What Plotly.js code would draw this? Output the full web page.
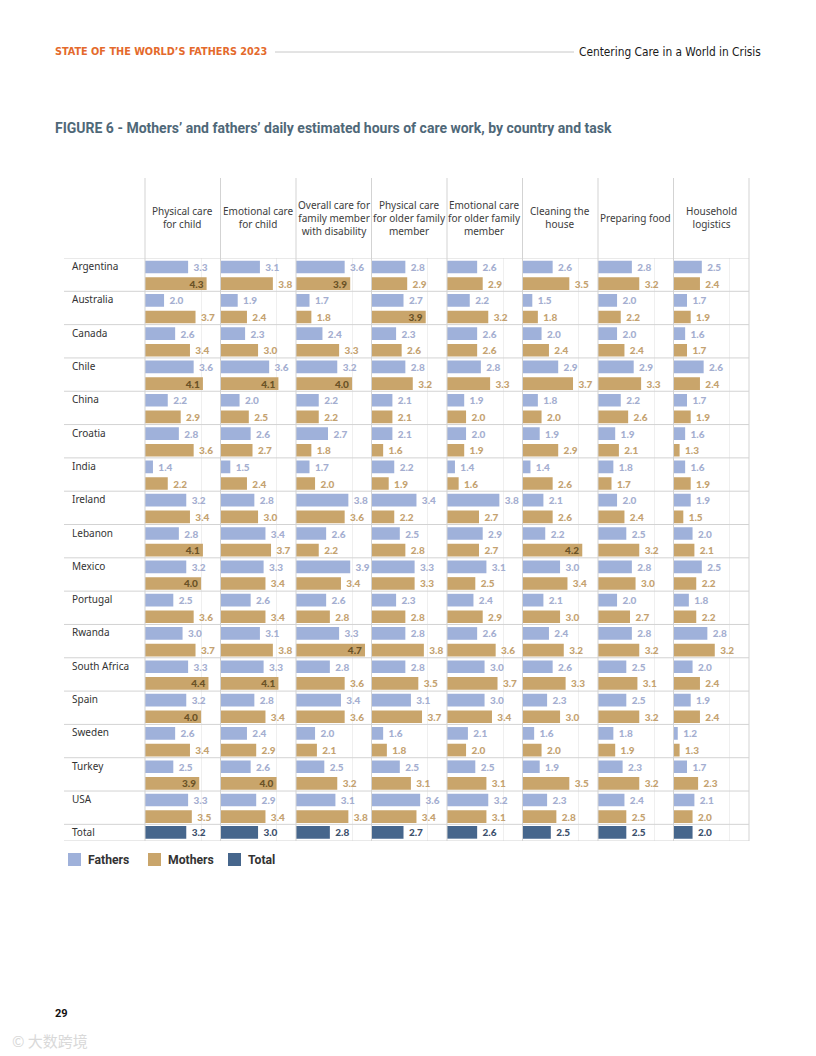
<!DOCTYPE html>
<html>
<head>
<meta charset="utf-8">
<script src="https://cdn.plot.ly/plotly-3.0.1.min.js"></script>
<style>
  html, body { margin: 0; padding: 0; background: #ffffff; }
  #chart { width: 816px; height: 1056px; }
</style>
</head>
<body>
<div id="chart"></div>
<script>
// ---------- DATA ----------
const tasks = [
  "Physical care<br>for child",
  "Emotional care<br>for child",
  "Overall care for<br>family member<br>with disability",
  "Physical care<br>for older family<br>member",
  "Emotional care<br>for older family<br>member",
  "Cleaning the<br>house",
  "Preparing food",
  "Household<br>logistics"
];

const countries = ["Argentina", "Australia", "Canada", "Chile", "China", "Croatia", "India", "Ireland",
  "Lebanon", "Mexico", "Portugal", "Rwanda", "South Africa", "Spain", "Sweden", "Turkey", "USA"];

// one row per country, one value per task (hours per day)
const fathers = [
  [3.3, 3.1, 3.6, 2.8, 2.6, 2.6, 2.8, 2.5],
  [2.0, 1.9, 1.7, 2.7, 2.2, 1.5, 2.0, 1.7],
  [2.6, 2.3, 2.4, 2.3, 2.6, 2.0, 2.0, 1.6],
  [3.6, 3.6, 3.2, 2.8, 2.8, 2.9, 2.9, 2.6],
  [2.2, 2.0, 2.2, 2.1, 1.9, 1.8, 2.2, 1.7],
  [2.8, 2.6, 2.7, 2.1, 2.0, 1.9, 1.9, 1.6],
  [1.4, 1.5, 1.7, 2.2, 1.4, 1.4, 1.8, 1.6],
  [3.2, 2.8, 3.8, 3.4, 3.8, 2.1, 2.0, 1.9],
  [2.8, 3.4, 2.6, 2.5, 2.9, 2.2, 2.5, 2.0],
  [3.2, 3.3, 3.9, 3.3, 3.1, 3.0, 2.8, 2.5],
  [2.5, 2.6, 2.6, 2.3, 2.4, 2.1, 2.0, 1.8],
  [3.0, 3.1, 3.3, 2.8, 2.6, 2.4, 2.8, 2.8],
  [3.3, 3.3, 2.8, 2.8, 3.0, 2.6, 2.5, 2.0],
  [3.2, 2.8, 3.4, 3.1, 3.0, 2.3, 2.5, 1.9],
  [2.6, 2.4, 2.0, 1.6, 2.1, 1.6, 1.8, 1.2],
  [2.5, 2.6, 2.5, 2.5, 2.5, 1.9, 2.3, 1.7],
  [3.3, 2.9, 3.1, 3.6, 3.2, 2.3, 2.4, 2.1]
];

const mothers = [
  [4.3, 3.8, 3.9, 2.9, 2.9, 3.5, 3.2, 2.4],
  [3.7, 2.4, 1.8, 3.9, 3.2, 1.8, 2.2, 1.9],
  [3.4, 3.0, 3.3, 2.6, 2.6, 2.4, 2.4, 1.7],
  [4.1, 4.1, 4.0, 3.2, 3.3, 3.7, 3.3, 2.4],
  [2.9, 2.5, 2.2, 2.1, 2.0, 2.0, 2.6, 1.9],
  [3.6, 2.7, 1.8, 1.6, 1.9, 2.9, 2.1, 1.3],
  [2.2, 2.4, 2.0, 1.9, 1.6, 2.6, 1.7, 1.9],
  [3.4, 3.0, 3.6, 2.2, 2.7, 2.6, 2.4, 1.5],
  [4.1, 3.7, 2.2, 2.8, 2.7, 4.2, 3.2, 2.1],
  [4.0, 3.4, 3.4, 3.3, 2.5, 3.4, 3.0, 2.2],
  [3.6, 3.4, 2.8, 2.8, 2.9, 3.0, 2.7, 2.2],
  [3.7, 3.8, 4.7, 3.8, 3.6, 3.2, 3.2, 3.2],
  [4.4, 4.1, 3.6, 3.5, 3.7, 3.3, 3.1, 2.4],
  [4.0, 3.4, 3.6, 3.7, 3.4, 3.0, 3.2, 2.4],
  [3.4, 2.9, 2.1, 1.8, 2.0, 2.0, 1.9, 1.3],
  [3.9, 4.0, 3.2, 3.1, 3.1, 3.5, 3.2, 2.3],
  [3.5, 3.4, 3.8, 3.4, 3.1, 2.8, 2.5, 2.0]
];

const totals = [3.2, 3.0, 2.8, 2.7, 2.6, 2.5, 2.5, 2.0];

const legendLabels = ["Fathers", "Mothers", "Total"];

// ---------- STYLE / GEOMETRY ----------
const W = 816, H = 1056;
const px = x => x / W;
const py = y => 1 - y / H;
const colL = 145, colW = 75.5;
const gridTop = 178, rowTop = 258, gridBottom = 841, labelX = 66;
const R0 = 0.97, R1 = 5.05;
const C_F = "#9fb1da", C_M = "#c9a56b", C_T = "#46668c";
const T_F = "#a4aed0", T_M = "#c4a270", T_IN = "#6a5226", T_T = "#3c506c";
const numFont = "Lato, 'Open Sans', sans-serif";
const txtFont = "'Noto Sans', 'Open Sans', sans-serif";
const nRows = countries.length + 0.5;
const lineC = "#d3d3d3";
const numSize = 10;

const traces = [];
const layout = {
  width: W, height: H,
  margin: { l: 0, r: 0, t: 0, b: 0 },
  paper_bgcolor: "#ffffff", plot_bgcolor: "rgba(0,0,0,0)",
  showlegend: false,
  barmode: "overlay",
  yaxis: {
    domain: [py(gridBottom), py(rowTop)],
    range: [nRows, 0],
    showgrid: false, zeroline: false, showticklabels: false, showline: false,
    fixedrange: true
  },
  shapes: [],
  annotations: []
};

tasks.forEach((task, k) => {
  const ax = k === 0 ? "x" : "x" + (k + 1);
  const axKey = k === 0 ? "xaxis" : "xaxis" + (k + 1);
  layout[axKey] = {
    domain: [px(colL + k * colW), px(colL + (k + 1) * colW)],
    range: [R0, R1],
    anchor: "y",
    tickvals: [4], showticklabels: false,
    showgrid: true, gridcolor: "#efefef", gridwidth: 1,
    zeroline: false, showline: false, fixedrange: true
  };

  const fv = countries.map((c, i) => fathers[i][k]);
  const mv = countries.map((c, i) => mothers[i][k]);

  traces.push({
    type: "bar", orientation: "h", xaxis: ax, yaxis: "y",
    base: R0,
    x: fv.map(v => v - R0),
    y: countries.map((c, i) => i + 0.27),
    width: 0.38,
    marker: { color: C_F },
    text: fv.map(v => "\u00a0" + v.toFixed(1)),
    texttemplate: "%{text}",
    textposition: "outside",
    outsidetextfont: { family: numFont, size: numSize, color: T_F, weight: 900 },
    constraintext: "none", cliponaxis: false, hoverinfo: "skip"
  });

  traces.push({
    type: "bar", orientation: "h", xaxis: ax, yaxis: "y",
    base: R0,
    x: mv.map(v => v - R0),
    y: countries.map((c, i) => i + 0.77),
    width: 0.38,
    marker: { color: C_M },
    text: mv.map(v => (v >= 3.9 ? "" : "\u00a0") + v.toFixed(1)),
    texttemplate: "%{text}",
    textposition: mv.map(v => v >= 3.9 ? "inside" : "outside"),
    insidetextanchor: "end",
    insidetextfont: { family: numFont, size: numSize, color: T_IN, weight: 900 },
    outsidetextfont: { family: numFont, size: numSize, color: T_M, weight: 900 },
    constraintext: "none", cliponaxis: false, hoverinfo: "skip"
  });

  traces.push({
    type: "bar", orientation: "h", xaxis: ax, yaxis: "y",
    base: R0,
    x: [totals[k] - R0],
    y: [countries.length + 0.24],
    width: 0.38,
    marker: { color: C_T },
    text: ["\u00a0" + totals[k].toFixed(1)],
    texttemplate: "%{text}",
    textposition: "outside",
    outsidetextfont: { family: numFont, size: numSize, color: T_T, weight: 900 },
    constraintext: "none", cliponaxis: false, hoverinfo: "skip"
  });

  // column header
  layout.annotations.push({
    xref: "paper", yref: "paper",
    x: px(colL + (k + 0.5) * colW), y: py(218),
    xanchor: "center", yanchor: "middle",
    text: task, showarrow: false, align: "center",
    font: { family: txtFont, size: 10, color: "#3d3d3d" }
  });
});

// vertical column separators
for (let k = 0; k <= tasks.length; k++) {
  layout.shapes.push({
    type: "line", xref: "paper", yref: "paper",
    x0: px(colL + k * colW), x1: px(colL + k * colW),
    y0: py(gridBottom), y1: py(gridTop),
    line: { color: lineC, width: 1 }
  });
}
// horizontal row separators (header line, between rows, bottom)
const rowLines = [0].concat(countries.map((c, i) => i + 1), [nRows]);
rowLines.forEach(v => {
  layout.shapes.push({
    type: "line", xref: "paper", yref: "y",
    x0: px(labelX - 2), x1: px(colL + tasks.length * colW),
    y0: v, y1: v,
    line: { color: lineC, width: 1 }
  });
});

// country labels
countries.concat(["Total"]).forEach((c, i) => {
  layout.annotations.push({
    xref: "paper", yref: "y",
    x: px(70), y: i + 0.24,
    xanchor: "left", yanchor: "middle",
    text: c, showarrow: false,
    font: { family: txtFont, size: 10, color: "#333333" }
  });
});

// legend (manual)
const legColors = [C_F, C_M, C_T];
legendLabels.forEach((lab, j) => {
  const x0 = 68 + j * 80;
  layout.shapes.push({
    type: "rect", xref: "paper", yref: "paper",
    x0: px(x0), x1: px(x0 + 13), y0: py(866), y1: py(853),
    fillcolor: legColors[j], line: { width: 0 }
  });
  layout.annotations.push({
    xref: "paper", yref: "paper",
    x: px(x0 + 18), y: py(860),
    xanchor: "left", yanchor: "middle",
    text: "<b>" + lab + "</b>", showarrow: false,
    font: { family: "'Roboto', sans-serif", size: 12.2, color: "#333333" }
  });
});

// page header
layout.annotations.push({
  xref: "paper", yref: "paper", x: px(53), y: py(52),
  xanchor: "left", yanchor: "middle", showarrow: false,
  text: "<b>STATE OF THE WORLD’S FATHERS 2023</b>",
  font: { family: "'Liberation Sans Narrow', 'DejaVu Sans Condensed', sans-serif", size: 10.8, color: "#e46a2c" }
});
layout.shapes.push({
  type: "line", xref: "paper", yref: "paper",
  x0: px(275), x1: px(574), y0: py(52), y1: py(52),
  line: { color: "#c8c8c8", width: 1 }
});
layout.annotations.push({
  xref: "paper", yref: "paper", x: px(763), y: py(52),
  xanchor: "right", yanchor: "middle", showarrow: false,
  text: "Centering Care in a World in Crisis",
  font: { family: "'Liberation Sans Narrow', 'DejaVu Sans Condensed', sans-serif", size: 11.8, color: "#1a1a1a" }
});

// figure title
layout.annotations.push({
  xref: "paper", yref: "paper", x: px(53), y: py(128),
  xanchor: "left", yanchor: "middle", showarrow: false,
  text: "<b>FIGURE 6 - Mothers’ and fathers’ daily estimated hours of care work, by country and task</b>",
  font: { family: "'Roboto', sans-serif", size: 14, color: "#4f6878" }
});

// page number + watermark
layout.annotations.push({
  xref: "paper", yref: "paper", x: px(53), y: py(1013),
  xanchor: "left", yanchor: "middle", showarrow: false,
  text: "<b>29</b>",
  font: { family: "'Roboto', sans-serif", size: 11, color: "#111111" }
});
layout.annotations.push({
  xref: "paper", yref: "paper", x: px(10), y: py(1040),
  xanchor: "left", yanchor: "middle", showarrow: false,
  text: "© 大数跨境",
  font: { family: "'Noto Sans CJK SC', sans-serif", size: 15, color: "#d9d9d9" }
});

Plotly.newPlot("chart", traces, layout, { staticPlot: true, displayModeBar: false });
</script>
</body>
</html>
